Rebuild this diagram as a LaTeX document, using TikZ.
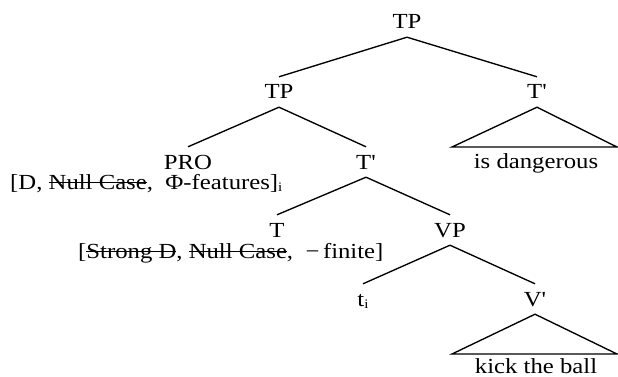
\documentclass[tikz,border=0pt]{standalone}
\usepackage{fontspec}
\newfontfamily\treefont[FakeStretch=1.15]{Liberation Serif}
\newsavebox\strkbox
\newcommand\strk[1]{\sbox\strkbox{#1}\rlap{\usebox\strkbox}\rule[5.8pt]{\wd\strkbox}{1pt}}
\newcommand\subidx{\raisebox{-0.3ex}{\fontsize{13}{13}\selectfont i}}
\begin{document}
\begin{tikzpicture}[x=1pt,y=-1pt,
  lab/.style={font=\treefont\fontsize{21.5}{24}\selectfont, inner xsep=0pt, inner ysep=8pt,
              text height=14pt, text depth=0pt, anchor=base},
  feat/.style={font=\treefont\fontsize{21.5}{24}\selectfont, inner sep=0pt, anchor=base west},
  leaf/.style={font=\treefont\fontsize{21.5}{24}\selectfont, inner sep=0pt, anchor=base},
  branch/.style={line width=1.35pt, line join=miter}]
\useasboundingbox (0,0) rectangle (618,377);

\node[lab] (tp)  at (407,29)  {TP};
\node[lab] (tp2) at (279,99)  {TP};
\node[lab] (tb1) at (537,99)  {T'};
\node[lab] (pro) at (188,169) {PRO};
\node[lab] (tb2) at (366,169) {T'};
\node[lab] (t)   at (277,237) {T};
\node[lab] (vp)  at (450,237) {VP};
\node[lab] (ti)  at (363,306) {t\subidx};
\node[lab] (vb)  at (535,306) {V'};

\node[feat] (f1) at (10,189) {[D, \strk{Null Case},\ \ Φ-features]\subidx};
\node[feat] (f2) at (78,258) {[\strk{Strong D}, \strk{Null Case},\ \ \symbol{"2212}\,finite]};

\node[leaf] (dang) at (536,168) {is dangerous};
\node[leaf] (kick) at (536,373) {kick the ball};

\coordinate (a1) at (452,147);
\coordinate (a2) at (617,147);
\coordinate (b1) at (452,354);
\coordinate (b2) at (617,354);

\draw[branch] (tp.south) -- (tp2.north);
\draw[branch] (tp.south) -- (tb1.north);
\draw[branch] (tp2.south) -- (pro.north);
\draw[branch] (tp2.south) -- (tb2.north);
\draw[branch] (tb2.south) -- (t.north);
\draw[branch] (tb2.south) -- (vp.north);
\draw[branch] (vp.south) -- (ti.north);
\draw[branch] (vp.south) -- (vb.north);
\draw[branch] (tb1.south) -- (a1) -- (a2) -- cycle;
\draw[branch] (vb.south) -- (b1) -- (b2) -- cycle;
\end{tikzpicture}
\end{document}
